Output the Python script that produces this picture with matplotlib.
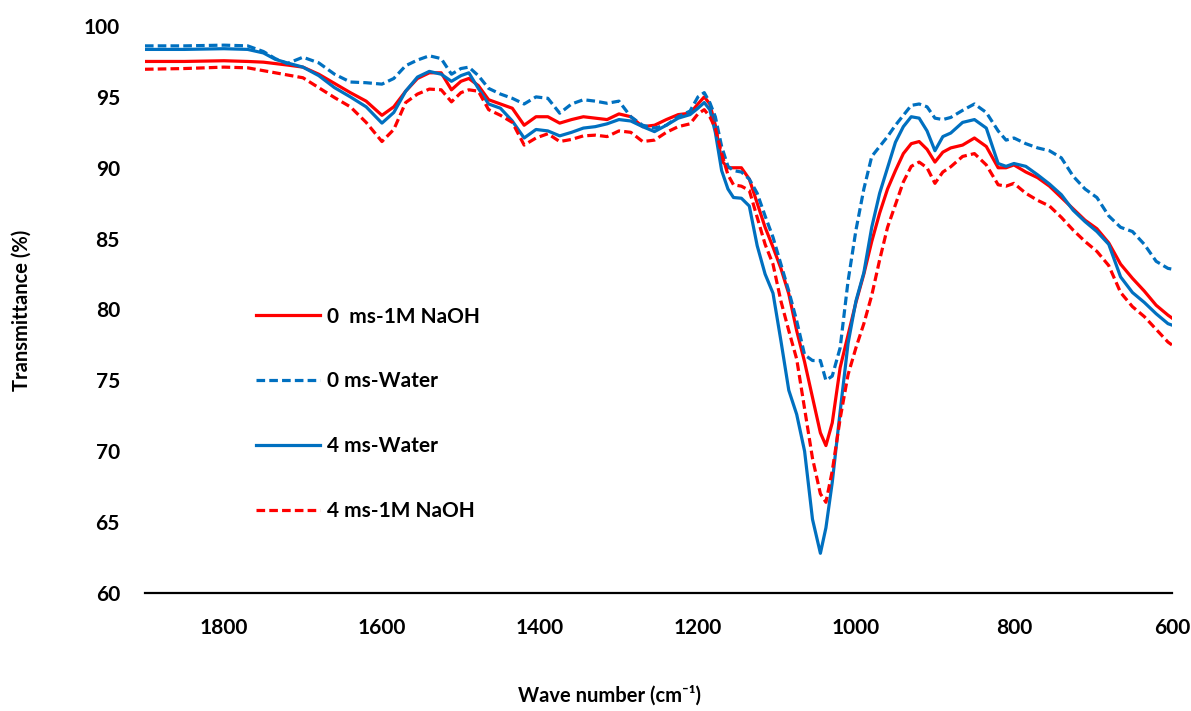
import numpy as np
import matplotlib
matplotlib.use("Agg")
import matplotlib.pyplot as plt

plt.rcParams['font.family'] = ['Lato', 'DejaVu Sans']
plt.rcParams['font.weight'] = 'bold'

# wavenumber grid (cm-1) shared by all spectra
wavenumber = [1900, 1850, 1800, 1770, 1750, 1735, 1720, 1700, 1680, 1660, 1640, 1620, 1600, 1585,
              1570, 1555, 1540, 1525, 1512, 1500, 1490, 1478, 1465, 1450, 1435, 1420, 1405, 1390,
              1375, 1360, 1345, 1330, 1315, 1300, 1285, 1270, 1255, 1240, 1225, 1210, 1200, 1192,
              1185, 1178, 1170, 1162, 1155, 1145, 1135, 1125, 1115, 1105, 1095, 1085, 1075, 1065,
              1055, 1045, 1038, 1030, 1020, 1010, 1000, 990, 980, 970, 960, 950, 940, 930, 920,
              910, 900, 890, 880, 865, 850, 835, 820, 810, 800, 785, 770, 755, 740, 725, 710, 695,
              680, 665, 650, 635, 620, 605, 600]

naoh_0ms = [97.5, 97.5, 97.55, 97.5, 97.45, 97.35, 97.25, 97.1, 96.6, 95.95, 95.3, 94.7, 93.7, 94.3,
            95.4, 96.3, 96.7, 96.7, 95.5, 96.1, 96.3, 95.8, 94.8, 94.5, 94.2, 93.0, 93.6, 93.6,
            93.15, 93.4, 93.6, 93.5, 93.4, 93.8, 93.6, 92.9, 93.0, 93.4, 93.75, 93.85, 94.5, 95.0,
            94.5, 93.0, 90.5, 90.0, 90.0, 90.0, 89.2, 87.5, 85.8, 84.4, 82.9, 81.1, 78.5, 76.3,
            73.8, 71.3, 70.4, 72.0, 75.9, 78.2, 80.5, 82.5, 84.8, 86.8, 88.5, 89.8, 91.0, 91.7, 91.85,
            91.3, 90.4, 91.1, 91.4, 91.6, 92.1, 91.5, 90.0, 90.0, 90.2, 89.7, 89.3, 88.7, 87.9, 87.1,
            86.3, 85.7, 84.7, 83.2, 82.2, 81.3, 80.3, 79.6, 79.4]

water_0ms = [98.6, 98.6, 98.65, 98.6, 98.2, 97.7, 97.35, 97.8, 97.4, 96.6, 96.05, 96.0, 95.9, 96.3,
             97.2, 97.6, 97.9, 97.7, 96.6, 97.0, 97.1, 96.5, 95.6, 95.2, 94.9, 94.5, 95.0, 94.9,
             93.85, 94.5, 94.8, 94.7, 94.55, 94.7, 93.6, 93.0, 92.8, 93.0, 93.6, 94.0, 95.0, 95.3,
             94.6, 93.6, 91.5, 90.1, 89.8, 89.7, 89.2, 88.2, 86.6, 85.1, 83.2, 81.3, 79.2, 76.8,
             76.4, 76.4, 75.0, 75.3, 77.3, 82.0, 85.6, 88.5, 90.8, 91.5, 92.2, 93.0, 93.7, 94.4, 94.5,
             94.3, 93.5, 93.4, 93.55, 94.05, 94.5, 93.9, 92.6, 91.95, 92.1, 91.7, 91.4, 91.2, 90.7,
             89.4, 88.5, 87.9, 86.6, 85.8, 85.5, 84.6, 83.4, 82.9, 82.85]

water_4ms = [98.35, 98.35, 98.4, 98.35, 98.1, 97.65, 97.4, 97.1, 96.5, 95.65, 95.0, 94.3, 93.15, 93.9,
             95.4, 96.4, 96.8, 96.6, 96.1, 96.5, 96.7, 95.6, 94.5, 94.2, 93.3, 92.1, 92.7, 92.6,
             92.25, 92.5, 92.8, 92.9, 93.1, 93.4, 93.3, 92.9, 92.55, 93.0, 93.5, 93.75, 94.2, 94.6,
             94.1, 92.5, 89.8, 88.5, 87.9, 87.85, 87.3, 84.5, 82.5, 81.15, 77.8, 74.3, 72.6, 70.0,
             65.2, 62.8, 64.6, 67.8, 72.8, 77.6, 80.6, 82.6, 85.8, 88.2, 90.0, 91.8, 92.9, 93.6, 93.5,
             92.6, 91.2, 92.2, 92.45, 93.2, 93.4, 92.8, 90.3, 90.1, 90.3, 90.1, 89.5, 88.85, 88.1,
             87.0, 86.2, 85.5, 84.6, 82.3, 81.2, 80.5, 79.7, 79.0, 78.9]

naoh_4ms = [96.95, 97.0, 97.1, 97.05, 96.85, 96.7, 96.55, 96.35, 95.65, 94.95, 94.3, 93.2, 91.85, 92.7,
            94.6, 95.2, 95.55, 95.5, 94.65, 95.3, 95.5, 95.4, 94.1, 93.7, 93.2, 91.6, 92.1, 92.4,
            91.85, 92.0, 92.25, 92.3, 92.2, 92.6, 92.5, 91.85, 91.95, 92.5, 92.9, 93.1, 93.8, 94.1,
            93.6, 92.8, 91.0, 89.5, 88.8, 88.7, 88.4, 86.5, 84.6, 83.2, 80.6, 78.5, 76.5, 73.0,
            69.5, 67.0, 66.4, 68.6, 72.3, 75.4, 77.3, 79.0, 81.0, 83.5, 85.8, 87.4, 89.0, 90.1, 90.4,
            90.0, 88.9, 89.7, 90.07, 90.8, 91.0, 90.2, 88.8, 88.7, 88.9, 88.2, 87.7, 87.3, 86.5,
            85.6, 84.8, 84.1, 83.1, 81.2, 80.2, 79.5, 78.6, 77.7, 77.5]

RED = '#FF0000'
BLUE = '#0070C0'

fig = plt.figure(figsize=(11.91, 7.11), dpi=100)
ax = fig.add_axes([0.1217, 0.166, 0.8623, 0.7974])

ax.plot(wavenumber, naoh_0ms, color=RED, lw=2.3, label='0  ms-1M NaOH')
ax.plot(wavenumber, water_0ms, color=BLUE, lw=2.3, ls=(0, (2.7, 1.3)), label='0 ms-Water')
ax.plot(wavenumber, water_4ms, color=BLUE, lw=2.3, label='4 ms-Water')
ax.plot(wavenumber, naoh_4ms, color=RED, lw=2.3, ls=(0, (2.7, 1.3)), label='4 ms-1M NaOH')

ax.set_xlim(1900, 600)
ax.set_ylim(60, 100)
ax.set_xticks([1800, 1600, 1400, 1200, 1000, 800, 600])
ax.set_yticks(np.arange(60, 101, 5))

for s in ['top', 'right', 'left']:
    ax.spines[s].set_visible(False)
ax.spines['bottom'].set_linewidth(1.6)
ax.tick_params(axis='both', length=0, labelsize=15, pad=18)
for lab in ax.get_xticklabels() + ax.get_yticklabels():
    lab.set_fontweight('bold')

fig.text(22 / 1191, 1 - 310 / 711, 'Transmittance (%)', rotation=90, ha='center', va='center',
         fontsize=14.5, fontweight='bold')
fig.text(610 / 1191, 1 - 696 / 711, 'Wave number (cm\u207b\u00b9)', ha='center', va='center',
         fontsize=14.5, fontweight='bold')

leg = ax.legend(loc='upper left', bbox_to_anchor=(0.108, 0.505), frameon=False, fontsize=15,
                labelspacing=2.15, handlelength=3.1, handletextpad=0.3, borderpad=0, borderaxespad=0)
for t in leg.get_texts():
    t.set_fontweight('bold')

fig.savefig('out.png', dpi=100, facecolor='white')
